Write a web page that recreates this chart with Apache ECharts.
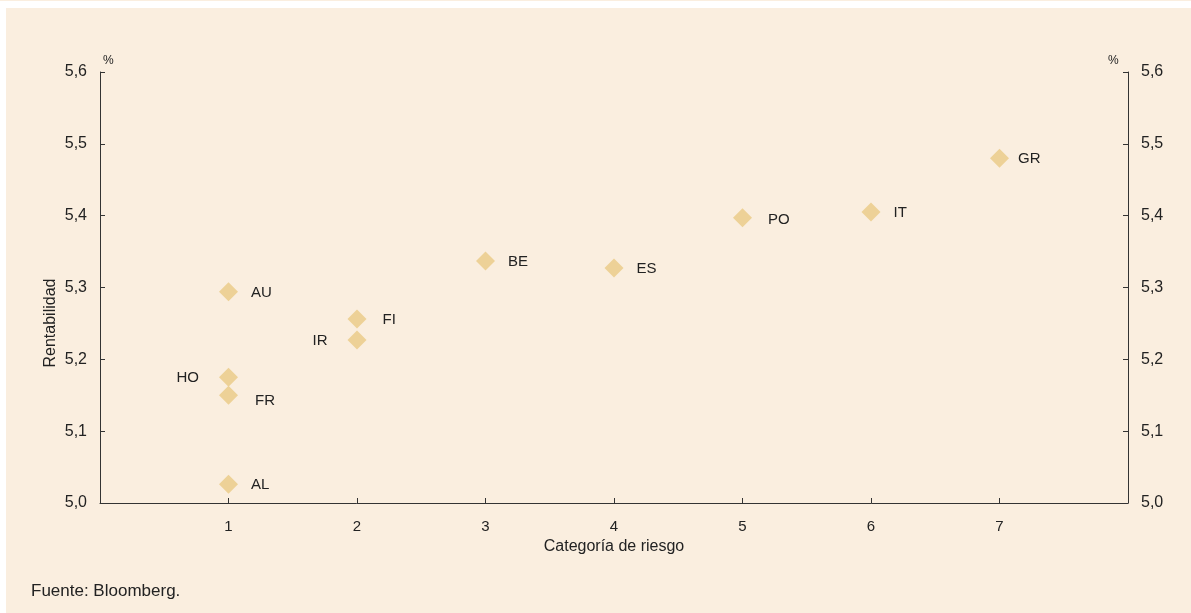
<!DOCTYPE html>
<html>
<head>
<meta charset="utf-8">
<script src="https://cdn.jsdelivr.net/npm/echarts@6/dist/echarts.min.js"></script>
<style>
  html, body { margin: 0; padding: 0; background: #ffffff; }
  #chart { width: 1191px; height: 613px; }
</style>
</head>
<body>
<div id="chart"></div>
<script>
// datos
var paises = ['AU', 'FI', 'IR', 'HO', 'FR', 'AL', 'BE', 'ES', 'PO', 'IT', 'GR']
var riesgo = [1, 2, 2, 1, 1, 1, 3, 4, 5, 6, 7]
var rentabilidad = [5.294, 5.256, 5.227, 5.175, 5.150, 5.026, 5.337, 5.327, 5.397, 5.405, 5.480]
var xTicks = [1, 2, 3, 4, 5, 6, 7]

// colocacion de las etiquetas: [dx, dy]; las de HO e IR van a la izquierda
var etiquetaIzq = { HO: true, IR: true }
var ajuste = { FR: [4, 6], FI: [3, 1], PO: [3, 2], GR: [-4, 1], AU: [0, 1], IT: [0, 1] }

var fuente = 'Liberation Sans, Arial, sans-serif'
var beige = '#FAEEDF'
var rombo = '#EDD197'

var puntos = paises.map(function (p, i) {
  var a = ajuste[p] || [0, 1]
  return {
    name: p,
    value: [riesgo[i], rentabilidad[i]],
    label: {
      position: etiquetaIzq[p] ? 'left' : 'right',
      distance: etiquetaIzq[p] ? 20 : 13,
      offset: a
    }
  }
})

var fmt = function (v) { return v.toFixed(1).replace('.', ',') }

var chart = echarts.init(document.getElementById('chart'))
chart.setOption({
  animation: false,
  backgroundColor: 'transparent',
  textStyle: { fontFamily: fuente },
  graphic: [
    { type: 'rect', z: -10, shape: { x: 0, y: 0, width: 1191, height: 1 }, style: { fill: beige } },
    { type: 'rect', z: -10, shape: { x: 6, y: 8, width: 1185, height: 605 }, style: { fill: beige } },
    { type: 'text', left: 103, top: 55, style: { text: '%', fontSize: 12, fill: '#222', fontFamily: fuente } },
    { type: 'text', left: 1108, top: 55, style: { text: '%', fontSize: 12, fill: '#222', fontFamily: fuente } },
    {
      type: 'text', x: 51, y: 323, rotation: Math.PI / 2,
      style: { text: 'Rentabilidad', fontSize: 16, fill: '#222', fontFamily: fuente, align: 'center', verticalAlign: 'middle' }
    },
    { type: 'text', left: 31, top: 583, style: { text: 'Fuente: Bloomberg.', fontSize: 17, fill: '#222', fontFamily: fuente } }
  ],
  grid: { left: 100, right: 63, top: 72, bottom: 110 },
  xAxis: {
    type: 'value',
    min: 0,
    max: 8,
    interval: 1,
    name: 'Categoría de riesgo',
    nameLocation: 'middle',
    nameGap: 36,
    nameMoveOverlap: false,
    nameTextStyle: { fontSize: 16, color: '#222' },
    splitLine: { show: false },
    axisLine: { lineStyle: { color: '#333', width: 1 } },
    axisTick: {
      inside: true, length: 5, lineStyle: { color: '#333' },
      customValues: xTicks
    },
    axisLabel: {
      fontSize: 15, color: '#222', margin: 16,
      customValues: xTicks
    }
  },
  yAxis: [
    {
      type: 'value',
      min: 5.0,
      max: 5.6,
      interval: 0.1,
      position: 'left',
      splitLine: { show: false },
      axisLine: { show: true, lineStyle: { color: '#333', width: 1 } },
      axisTick: { show: true, inside: true, length: 5, lineStyle: { color: '#333' } },
      axisLabel: { fontSize: 16, color: '#222', margin: 13, formatter: fmt }
    },
    {
      type: 'value',
      min: 5.0,
      max: 5.6,
      interval: 0.1,
      position: 'right',
      splitLine: { show: false },
      axisLine: { show: true, lineStyle: { color: '#333', width: 1 } },
      axisTick: { show: true, inside: true, length: 5, lineStyle: { color: '#333' } },
      axisLabel: { fontSize: 16, color: '#222', margin: 13, formatter: fmt }
    }
  ],
  series: [{
    type: 'scatter',
    symbol: 'diamond',
    symbolSize: 19,
    itemStyle: { color: rombo, opacity: 1 },
    label: {
      show: true,
      formatter: '{b}',
      fontSize: 15,
      color: '#222',
      fontFamily: fuente
    },
    data: puntos
  }]
})
</script>
</body>
</html>
